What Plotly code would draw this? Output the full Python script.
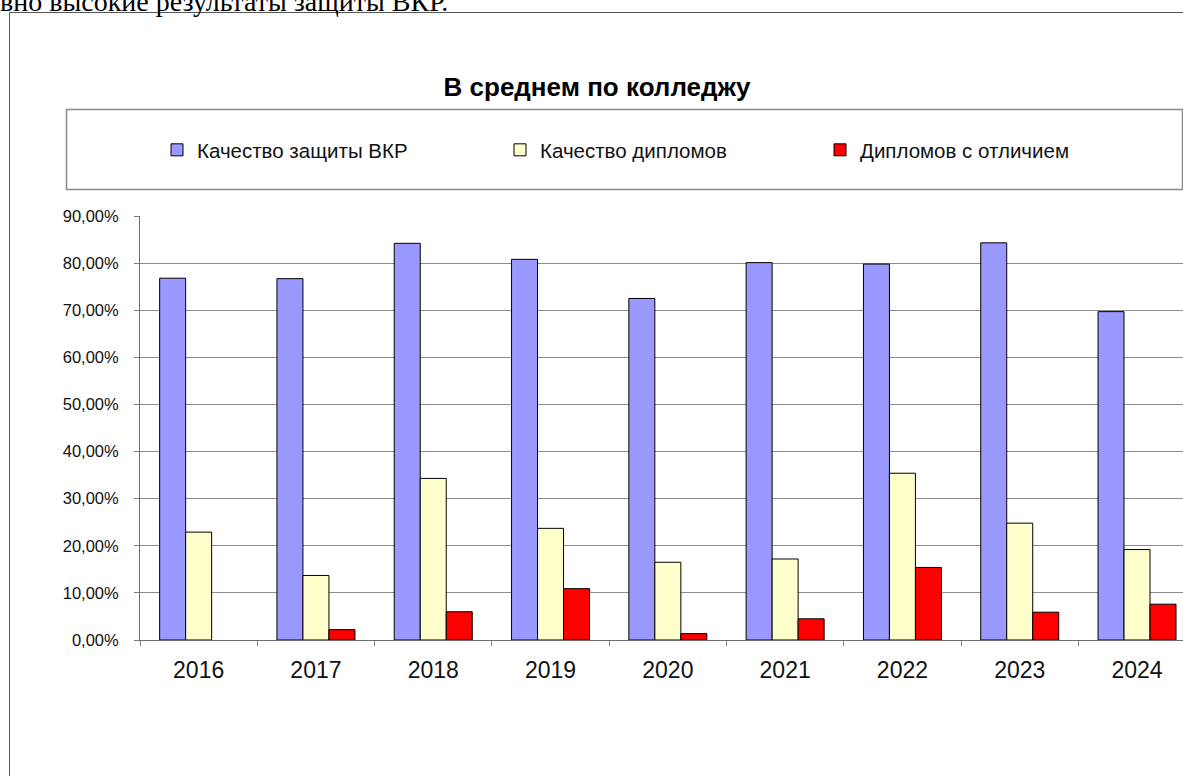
import plotly.graph_objects as go

years = ["2016", "2017", "2018", "2019", "2020", "2021", "2022", "2023", "2024"]
quality_vkr = [76.8, 76.7, 84.2, 80.8, 72.5, 80.1, 79.8, 84.3, 69.7]
quality_diplomas = [22.9, 13.7, 34.3, 23.7, 16.5, 17.2, 35.4, 24.8, 19.2]
honors_diplomas = [None, 2.2, 6.0, 10.9, 1.35, 4.5, 15.4, 5.9, 7.6]

series_names = ["Качество защиты ВКР", "Качество дипломов", "Дипломов с отличием"]
series_colors = ["#9999FF", "#FFFFCC", "#FF0000"]
y_tick_values = [0, 10, 20, 30, 40, 50, 60, 70, 80, 90]
y_tick_labels = ["0,00%", "10,00%", "20,00%", "30,00%", "40,00%", "50,00%",
                 "60,00%", "70,00%", "80,00%", "90,00%"]
title_text = "В среднем по колледжу"
doc_text = "вно высокие результаты защиты ВКР."

W, H = 1183, 776
L, R, T, B = 140, 0, 216, 136
PW = W - L - R
PH = H - T - B


def px(x):
    return (x - L) / PW


def py(y):
    return (H - B - y) / PH


FONT = "Liberation Sans, Arial, sans-serif"

fig = go.Figure()
legend_ids = ["legend", "legend2", "legend3"]
for name, vals, col, lg in zip(series_names,
                               [quality_vkr, quality_diplomas, honors_diplomas],
                               series_colors, legend_ids):
    fig.add_trace(go.Bar(
        x=years, y=vals, name=name, legend=lg,
        marker=dict(color=col, line=dict(color="#000000", width=1)),
        hoverinfo="x+y+name",
    ))

legend_x_px = [157, 500, 820]
leg_common = dict(orientation="h", bgcolor="rgba(0,0,0,0)", borderwidth=0,
                  font=dict(family=FONT, size=20.5, color="#111111"),
                  yanchor="middle", xanchor="left", itemwidth=30)
layout_legends = {}
for lg, lx in zip(legend_ids, legend_x_px):
    layout_legends[lg] = dict(leg_common, x=px(lx), y=py(150))

fig.update_layout(
    width=W, height=H,
    margin=dict(l=L, r=R, t=T, b=B, pad=0),
    paper_bgcolor="#FFFFFF", plot_bgcolor="#FFFFFF",
    barmode="group", bargap=0.335, bargroupgap=0,
    showlegend=True,
    title=dict(text=title_text, x=597 / W, xanchor="center",
               xref="container", yref="container", y=1 - 87 / H, yanchor="middle",
               font=dict(family=FONT, size=26, color="#000000", weight="bold")),
    xaxis=dict(type="category", range=[-0.5, 8.392], tickson="boundaries",
               ticks="outside", ticklen=5, tickcolor="#808080", tickwidth=1,
               showline=True, linecolor="#6e6e6e", linewidth=1, showgrid=False,
               tickfont=dict(family=FONT, size=23, color="#111111"),
               ticklabelstandoff=9, fixedrange=True),
    yaxis=dict(range=[0, 90], tickvals=y_tick_values, ticktext=y_tick_labels,
               ticks="outside", ticklen=5, tickcolor="#808080", tickwidth=1,
               showline=True, linecolor="#6e6e6e", linewidth=1,
               showgrid=True, gridcolor="#8c8c8c", gridwidth=1, zeroline=False,
               tickfont=dict(family=FONT, size=16.5, color="#111111"),
               ticklabelstandoff=12, fixedrange=True),
    **layout_legends,
)

# outer chart frame
fig.add_shape(type="rect", xref="paper", yref="paper",
              x0=px(9.5), x1=px(1300), y0=py(900), y1=py(12.5),
              line=dict(color="#555555", width=1), fillcolor="rgba(0,0,0,0)",
              layer="below")
# legend frame
fig.add_shape(type="rect", xref="paper", yref="paper",
              x0=px(66.5), x1=px(1182.5), y0=py(189.5), y1=py(109.5),
              line=dict(color="#8a8a8a", width=1.5), fillcolor="rgba(0,0,0,0)",
              layer="below")
# document text above the chart (cut off at the top)
fig.add_annotation(text=doc_text, xref="paper", yref="paper",
                   x=px(-2), y=py(19), xanchor="left", yanchor="bottom",
                   showarrow=False,
                   font=dict(family="Liberation Serif, Times New Roman, serif",
                             size=28, color="#000000"))

fig.write_html(
    "out.html",
    config={"displayModeBar": False},
    post_script="document.body.style.margin='0';document.body.style.overflow='hidden';",
)
